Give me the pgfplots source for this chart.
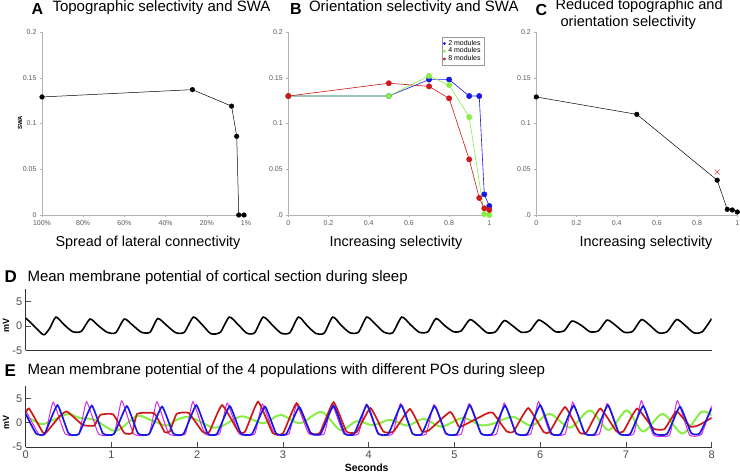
\documentclass[border=0pt]{standalone}
\usepackage{pgfplots}
\pgfplotsset{compat=1.18}
\usepackage{fontspec}
\setmainfont{Liberation Sans}
\definecolor{cblue}{RGB}{25,25,230}
\definecolor{cgreen}{RGB}{135,238,70}
\definecolor{cred}{RGB}{205,25,25}
\definecolor{cmag}{RGB}{215,40,230}
\pgfplotsset{
 panel/.style={scale only axis, anchor=south west, width=201pt, height=183pt,
   ymin=0, ymax=0.2, axis x line*=bottom, axis y line*=left,
   axis line style={-, draw=gray!60, line width=0.5pt},
   tick align=outside, major tick length=2pt,
   tick style={draw=gray!60, line width=0.4pt},
   tick label style={font=\fontsize{7}{8}\selectfont, text=black!65},
   /pgf/number format/assume math mode=true,
   ytick={0,0.05,0.1,0.15,0.2}, clip=false},
 trace/.style={scale only axis, anchor=south west, width=686pt, height=61pt,
   xmin=0, xmax=8, ymin=-5, ymax=7.5, axis x line*=bottom, axis y line*=left,
   axis line style={-, draw=black!80, line width=0.6pt},
   tick align=inside, major tick length=5pt,
   tick style={draw=black!70, line width=0.5pt},
   ytick={-5,0,5}, yticklabels={-5,0,5},
   /pgf/number format/assume math mode=true,
   tick label style={font=\fontsize{11}{11}\selectfont, text=black!70}},
}
\begin{document}
\begin{tikzpicture}
\path[use as bounding box] (0pt,0pt) rectangle (740pt,474pt);
% ---------- titles ----------
\node[anchor=base west, font=\bfseries\fontsize{16}{16}\selectfont] at (28pt,459pt) {A};
\node[anchor=base west, font=\fontsize{15}{15}\selectfont] at (49pt,462pt) {Topographic selectivity and SWA};
\node[anchor=base west, font=\bfseries\fontsize{16}{16}\selectfont] at (286.5pt,459pt) {B};
\node[anchor=base west, font=\fontsize{15}{15}\selectfont] at (305.5pt,462pt) {Orientation selectivity and SWA};
\node[anchor=base west, font=\bfseries\fontsize{16}{16}\selectfont] at (532pt,458pt) {C};
\node[anchor=base west, font=\fontsize{14.6}{14}\selectfont] at (552pt,464pt) {Reduced topographic and};
\node[anchor=base west, font=\fontsize{14.6}{14}\selectfont] at (557pt,447.5pt) {orientation selectivity};
\node[anchor=base, font=\fontsize{14.4}{14}\selectfont] at (148pt,227pt) {Spread of lateral connectivity};
\node[anchor=base, font=\fontsize{14.4}{14}\selectfont] at (396pt,227pt) {Increasing selectivity};
\node[anchor=base, font=\fontsize{14.4}{14}\selectfont] at (646pt,227pt) {Increasing selectivity};
\node[rotate=90, font=\bfseries\fontsize{6}{6}\selectfont] at (20pt,351pt) {SWA};
\node[anchor=base west, font=\bfseries\fontsize{17}{17}\selectfont] at (1pt,191pt) {D};
\node[anchor=base west, font=\fontsize{15}{15}\selectfont] at (24pt,192.3pt) {Mean membrane potential of cortical section during sleep};
\node[anchor=base west, font=\bfseries\fontsize{17}{17}\selectfont] at (1pt,97.3pt) {E};
\node[anchor=base west, font=\fontsize{15}{15}\selectfont] at (24pt,99pt) {Mean membrane potential of the 4 populations with different POs during sleep};
\node[rotate=90, font=\bfseries\fontsize{9}{9}\selectfont] at (6pt,148pt) {mV};
\node[rotate=90, font=\bfseries\fontsize{9}{9}\selectfont] at (6pt,51.3pt) {mV};
\node[anchor=base, font=\bfseries\fontsize{10.5}{10.5}\selectfont] at (366.7pt,2.3pt) {Seconds};
% ---------- A ----------
\begin{axis}[panel, at={(42pt,259pt)}, width=204pt, xmin=1, xmax=100, x dir=reverse,
  xtick={100,80,60,40,20,1}, xticklabels={100\%,80\%,60\%,40\%,20\%,1\%},
  yticklabels={0,0.05,0.1,0.15,0.2}]
\addplot[black, line width=0.5pt, mark=*, mark size=2.3pt] coordinates {
(100,0.129)(27,0.137)(8,0.119)(5.5,0.086)(4.5,0)(2,0)};
\end{axis}
% ---------- B ----------
\begin{axis}[panel, at={(288.3pt,259pt)}, xmin=0, xmax=1,
  xtick={0,0.2,0.4,0.6,0.8,1}, xticklabels={0,0.2,0.4,0.6,0.8,1},
  yticklabels={.0,0.05,0.1,0.15,0.2},
  legend style={at={(0.975,0.973)}, anchor=north east, font=\fontsize{7}{6}\selectfont,
    draw=gray!80, line width=0.4pt, inner sep=1pt, row sep=-2.8pt,
    nodes={inner xsep=2.5pt}}, legend cell align=left,
  legend image code/.code={\fill[#1] (0.3cm,0cm) circle (1.2pt);}]
\addplot[cblue, line width=0.6pt, mark=*, mark size=2.6pt, forget plot] coordinates {
(0,0.13)(0.5,0.13)(0.7,0.148)(0.8,0.148)(0.9,0.130)(0.95,0.130)(0.975,0.0226)(1.0,0.0098)};
\addplot[cgreen, line width=0.6pt, mark=*, mark size=2.6pt, forget plot] coordinates {
(0,0.13)(0.5,0.130)(0.7,0.152)(0.8,0.142)(0.9,0.107)(0.975,0.001)(1.0,0.0)};
\addplot[cred, line width=0.6pt, mark=*, mark size=2.6pt, forget plot] coordinates {
(0,0.13)(0.5,0.144)(0.7,0.1406)(0.8,0.1275)(0.9,0.0608)(0.95,0.0186)(0.975,0.0073)(1.0,0.0055)};
\addlegendimage{cblue}
\addlegendentry{2 modules}
\addlegendimage{cgreen}
\addlegendentry{4 modules}
\addlegendimage{cred}
\addlegendentry{8 modules}
\end{axis}
% ---------- C ----------
\begin{axis}[panel, at={(536.3pt,259pt)}, xmin=0, xmax=1,
  xtick={0,0.2,0.4,0.6,0.8,1}, xticklabels={0,0.2,0.4,0.6,0.8,1},
  yticklabels={.0,0.05,0.1,0.15,0.2}]
\addplot[black, line width=0.5pt, mark=*, mark size=2.3pt] coordinates {
(0,0.129)(0.5,0.110)(0.9,0.038)(0.95,0.0062)(0.975,0.0055)(1.0,0.0033)};
\addplot[only marks, cred!80, mark=x, mark size=3.5pt, line width=0.5pt] coordinates {(0.9,0.047)};
\end{axis}
% ---------- D ----------
\begin{axis}[trace, at={(25.7pt,123.7pt)}, xtick=\empty]
\addplot[black, line width=1.6pt, smooth, tension=0.4] coordinates {
(0.00,1.6)(0.08,0.3)(0.18,-1.5)(0.22,-1.8)(0.28,-0.5)(0.353,1.8)(0.45,0.2)(0.55,-1.2)(0.65,-1.1)
(0.75,1.4)(0.85,0.0)(0.95,-1.3)(1.05,-1.4)(1.15,1.4)(1.25,0.1)(1.35,-1.3)(1.45,-1.3)
(1.54,1.5)(1.65,0.0)(1.75,-1.4)(1.85,-1.3)(1.955,1.8)(2.06,0.2)(2.16,-1.6)(2.27,-1.3)
(2.374,1.8)(2.48,0.2)(2.58,-1.5)(2.67,-1.4)(2.77,1.8)(2.88,0.1)(2.98,-1.5)(3.08,-1.4)
(3.18,1.8)(3.28,0.1)(3.38,-1.5)(3.48,-1.5)(3.58,1.8)(3.68,0.1)(3.78,-1.4)(3.88,-1.3)
(3.977,1.8)(4.08,0.3)(4.18,-1.3)(4.28,-1.4)(4.385,1.8)(4.49,0.2)(4.59,-1.3)(4.69,-1.2)
(4.785,1.5)(4.89,0.0)(4.99,-1.2)(5.08,-1.0)(5.18,1.3)(5.28,0.1)(5.38,-1.4)(5.48,-1.2)
(5.58,1.1)(5.68,0.0)(5.78,-1.3)(5.88,-1.0)(5.98,1.2)(6.08,0.2)(6.18,-1.2)(6.28,-1.0)
(6.37,1.0)(6.48,0.1)(6.58,-1.2)(6.68,-1.0)(6.78,1.2)(6.88,0.1)(6.98,-1.3)(7.08,-1.1)
(7.18,1.3)(7.28,0.1)(7.38,-1.4)(7.48,-1.2)(7.59,1.3)(7.69,0.1)(7.79,-1.4)(7.89,-1.2)(8.00,1.5)};
\end{axis}
% ---------- E ----------
\begin{axis}[trace, at={(25.7pt,26.9pt)}, xtick={0,1,2,3,4,5,6,7,8}, xticklabels={0,1,2,3,4,5,6,7,8}]
\addplot[cgreen, line width=2pt, smooth, tension=0.5] coordinates {
(0.00,1.4)(0.18,-0.3)(0.30,0.4)(0.50,1.8)(0.62,1.0)(0.80,0.6)(1.00,-1.5)(1.10,-1.3)
(1.30,1.4)(1.45,0.6)(1.64,-0.6)(1.75,0.5)(1.88,1.2)(2.00,0.5)(2.18,-1.0)(2.30,-0.6)
(2.52,1.3)(2.77,-0.1)(2.97,1.6)(3.20,-0.1)(3.45,2.2)(3.67,-1.5)(3.86,0.3)(4.05,-0.5)
(4.25,0.6)(4.45,-0.6)(4.64,0.8)(4.85,-0.8)(5.10,1.0)(5.30,-0.5)(5.45,-0.2)(5.68,1.2)
(5.90,-0.6)(6.11,1.8)(6.35,-1.0)(6.58,2.5)(6.80,-1.5)(7.01,2.5)(7.20,-1.8)(7.43,1.8)
(7.66,-2.2)(7.88,2.2)(8.00,1.5)};
\addplot[cmag, line width=1pt, smooth, tension=0.25] coordinates {
(0,2.5)(0.15,-2.3)(0.23,-2.3)(0.32,4.2)(0.46,-2.3)(0.62,-2.3)(0.71,4.3)(0.85,-2.3)(1.03,-2.3)
(1.12,4.5)(1.26,-2.3)(1.44,-2.3)(1.53,4.3)(1.67,-2.3)(1.86,-2.3)(1.95,4.3)(2.09,-2.3)(2.26,-2.3)
(2.35,4.0)(2.49,-2.3)(2.67,-2.3)(2.76,3.8)(2.90,-2.3)(3.07,-2.3)(3.16,3.7)(3.30,-2.2)(3.48,-2.3)
(3.57,3.8)(3.71,-2.3)(3.88,-2.3)(3.97,3.8)(4.11,-2.3)(4.28,-2.3)(4.37,3.9)(4.51,-2.3)(4.67,-2.3)
(4.76,3.7)(4.90,-2.3)(5.08,-2.3)(5.17,3.9)(5.31,-2.3)(5.49,-2.3)(5.58,4.0)(5.72,-2.3)(5.89,-2.3)
(5.98,4.3)(6.12,-2.3)(6.29,-2.3)(6.38,4.2)(6.52,-2.3)(6.69,-2.3)(6.78,3.9)(6.92,-2.3)(7.09,-2.3)
(7.18,4.5)(7.32,-2.5)(7.51,-2.5)(7.60,4.5)(7.74,-2.5)(7.88,-2.4)(8.00,3.5)};
\addplot[cred, line width=1.7pt, smooth, tension=0.25] coordinates {
(0.00,2.0)(0.04,2.9)(0.20,-2.0)(0.24,-2.0)(0.40,1.4)(0.48,2.3)(0.60,0.5)(0.67,-0.5)(0.80,-0.6)
(0.87,1.6)(1.02,1.7)(1.15,-2.1)(1.24,-2.1)(1.30,1.8)(1.50,1.9)(1.62,-1.9)(1.68,-1.8)(1.76,1.8)
(1.90,2.0)(2.06,-1.8)(2.14,-1.9)(2.29,3.6)(2.48,-1.8)(2.56,-1.8)(2.71,4.3)(2.88,-2.1)(3.00,-2.2)
(3.16,4.0)(3.32,-2.0)(3.43,-2.1)(3.59,4.2)(3.74,-1.8)(3.86,-1.9)(4.02,3.0)(4.17,-1.8)(4.29,-1.8)
(4.48,2.8)(4.62,-1.7)(4.70,-1.6)(4.95,2.2)(5.05,-0.8)(5.10,-0.6)(5.38,1.9)(5.45,2.0)(5.61,-1.8)
(5.69,-1.8)(5.86,3.0)(6.04,-1.9)(6.11,-1.9)(6.29,3.2)(6.46,-2.0)(6.54,-2.0)(6.70,2.9)(6.89,-1.8)
(6.97,-1.8)(7.13,2.9)(7.32,-1.2)(7.45,-1.3)(7.59,2.3)(7.75,-0.8)(7.85,-0.5)(8.00,1.0)};
\addplot[cblue, line width=1.7pt, smooth, tension=0.25] coordinates {
(0,1.8)(0.12,-2.2)(0.22,-2.3)(0.37,3.6)(0.50,-2.2)(0.62,-2.3)(0.77,3.5)(0.90,-2.2)(1.03,-2.3)
(1.18,3.4)(1.31,-2.2)(1.44,-2.3)(1.59,3.3)(1.72,-2.2)(1.84,-2.3)(1.99,3.6)(2.12,-2.2)(2.23,-2.3)
(2.38,3.4)(2.51,-2.2)(2.64,-2.3)(2.79,3.3)(2.92,-2.2)(3.04,-2.3)(3.19,3.2)(3.32,-2.1)(3.44,-2.3)
(3.59,3.5)(3.72,-2.2)(3.83,-2.3)(3.98,3.6)(4.11,-2.2)(4.23,-2.3)(4.38,3.6)(4.51,-2.2)(4.62,-2.3)
(4.77,3.4)(4.90,-2.2)(5.03,-2.3)(5.18,3.6)(5.31,-2.2)(5.44,-2.3)(5.59,3.5)(5.72,-2.2)(5.85,-2.3)
(6.00,3.6)(6.13,-2.2)(6.24,-2.3)(6.39,3.5)(6.52,-2.2)(6.64,-2.3)(6.79,3.6)(6.92,-2.2)(7.05,-2.3)
(7.20,3.4)(7.33,-2.2)(7.48,-2.3)(7.63,3.3)(7.76,-2.1)(7.86,-2.2)(8.00,3.0)};
\end{axis}
\end{tikzpicture}
\end{document}
